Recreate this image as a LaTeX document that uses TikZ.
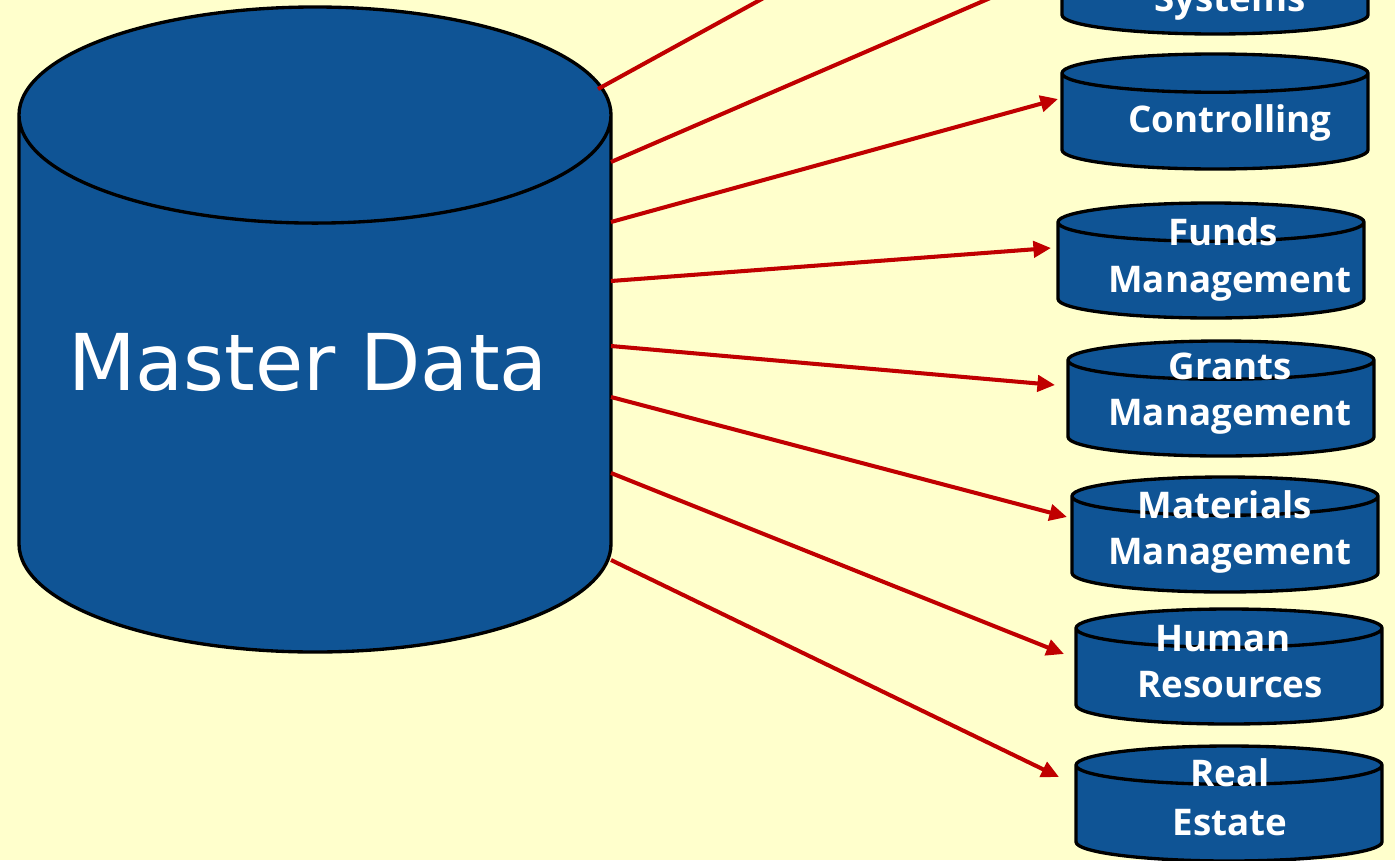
\documentclass[tikz,border=0pt]{standalone}
\usepackage{fontspec}
\setmainfont{DejaVu Sans}
\newfontfamily\dbfont{Open Sans}
\usetikzlibrary{shapes.geometric,arrows.meta}
\definecolor{paper}{HTML}{FFFFCC}
\definecolor{dbblue}{HTML}{0F5495}
\definecolor{feedred}{HTML}{C00000}

\begin{document}
\begin{tikzpicture}[
    dbase/.style={cylinder, shape border rotate=90, draw=black, fill=dbblue,
        line width=0.95pt, inner sep=0pt, outer sep=0pt, anchor=shape center},
    smalldb/.style={dbase, minimum width=3.06cm, minimum height=1.15cm, aspect=0.125,
        execute at begin node={\rule{3.06cm}{0pt}}},
    dbtext/.style={text=white, align=center, inner sep=0pt,
        font=\dbfont\bfseries\fontsize{10.45pt}{13.3pt}\selectfont},
    feed/.style={draw=feedred, line width=1.15pt,
        -{Triangle[length=5pt, width=4.6pt]}}]
        \fill [paper] (0, 0) rectangle (13.95, -8.6);
        \useasboundingbox (0, 0) rectangle (13.95, -8.6);
        \clip (0, 0) rectangle (13.95, -8.6);

        \node [dbase, minimum width=5.92cm, minimum height=6.45cm, aspect=0.365,
            execute at begin node={\rule{5.92cm}{0pt}}] (master) at (3.15, -3.295) {};
        \node [text=white, font=\fontsize{22.3pt}{27pt}\selectfont, inner sep=0pt] (mastertext) at (3.08, -3.62) {Master Data};

        \node [smalldb] (systems) at (12.15, 0.235) {};
        \node [smalldb] (controlling) at (12.15, -1.115) {};
        \node [smalldb] (funds) at (12.11, -2.605) {};
        \node [smalldb] (grants) at (12.21, -3.985) {};
        \node [smalldb] (materials) at (12.25, -5.345) {};
        \node [smalldb] (human) at (12.29, -6.665) {};
        \node [smalldb] (real) at (12.29, -8.035) {};

        \node [dbtext] (systemstext) at (12.30, -0.03) {Systems};
        \node [dbtext] (controllingtext) at (12.30, -1.23) {Controlling};
        \node [dbtext] (fundstext) at (12.30, -2.595) {Funds\kern4pt\\Management};
        \node [dbtext] (grantstext) at (12.30, -3.935) {Grants\\Management};
        \node [dbtext] (materialstext) at (12.30, -5.32) {Materials\kern3pt\\Management};
        \node [dbtext] (humantext) at (12.30, -6.615) {Human\kern4pt\\Resources};
        \node [dbtext] (realtext) at (12.30, -7.97) {Real\\[0.6pt]Estate};

        % where the lines leave the big drum
        \coordinate (out1) at (5.98, -0.89);
        \coordinate (out2) at (6.11, -1.62);
        \coordinate (out3) at (6.11, -2.22);
        \coordinate (out4) at (6.11, -2.81);
        \coordinate (out5) at (6.11, -3.46);
        \coordinate (out6) at (6.11, -3.97);
        \coordinate (out7) at (6.11, -4.73);
        \coordinate (out8) at (6.11, -5.60);
        % where they arrive
        \coordinate (in1) at (9.00, 0.77);
        \coordinate (in2) at (10.55, 0.30);
        \coordinate (in3) at (10.58, -0.99);
        \coordinate (in4) at (10.51, -2.48);
        \coordinate (in5) at (10.55, -3.85);
        \coordinate (in6) at (10.67, -5.17);
        \coordinate (in7) at (10.64, -6.54);
        \coordinate (in8) at (10.59, -7.77);

        \foreach \i in {1,...,8}
            \draw [feed] (out\i) -- (in\i);
    \end{tikzpicture}
\end{document}
